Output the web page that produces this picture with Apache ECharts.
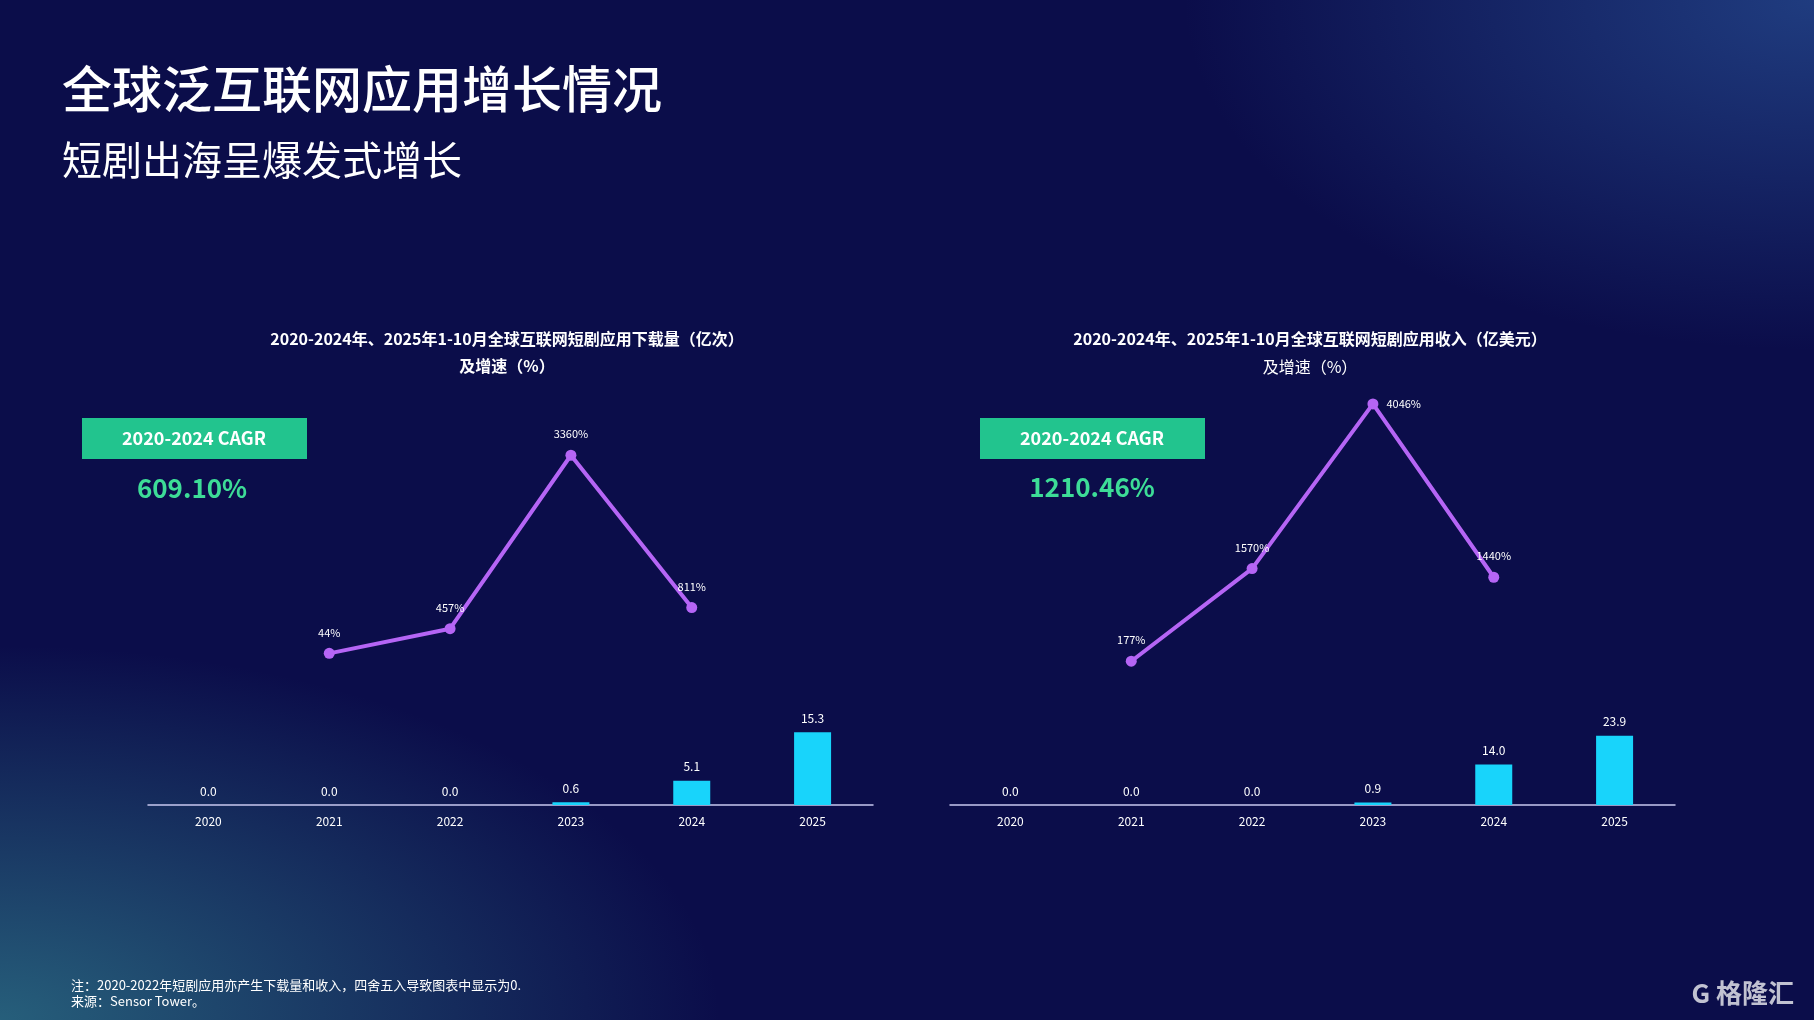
<!DOCTYPE html>
<html><head><meta charset="utf-8">
<script src="https://cdn.jsdelivr.net/npm/echarts@6/dist/echarts.min.js"></script>
<style>
html,body{margin:0;padding:0;width:1814px;height:1020px;overflow:hidden;}
body{background:
radial-gradient(ellipse 1000px 520px at 0% 100%, rgba(45,115,135,0.8), rgba(45,115,135,0) 72%),
radial-gradient(ellipse 900px 500px at 100% 0%, rgba(40,80,150,0.7), rgba(40,80,150,0) 70%),
#0b0d4a;}
#c{width:1814px;height:1020px;}
</style></head><body><div id="c"></div>
<script>
const years = ['2020','2021','2022','2023','2024','2025'];
const downloads = [0.0, 0.0, 0.0, 0.6, 5.1, 15.3];
const downloadGrowth = [null, 44, 457, 3360, 811, null];
const revenue = [0.0, 0.0, 0.0, 0.9, 14.0, 23.9];
const revenueGrowth = [null, 177, 1570, 4046, 1440, null];
const cagrLeft = '609.10%';
const cagrRight = '1210.46%';

const F = '"Noto Sans CJK SC","Noto Sans",sans-serif';
const chart = echarts.init(document.getElementById('c'));
const grids = [
  {left:148, width:725, top:710, height:95},
  {left:148, width:725, top:417, height:239},
  {left:950, width:725, top:718, height:87},
  {left:950, width:725, top:407, height:266}
];
const xAxes = grids.map((g,i)=>({gridIndex:i, type:'category', data:years,
  show: i%2===0,
  axisLine:{lineStyle:{color:'#c8c8f0', width:1.5}}, axisTick:{show:false},
  axisLabel:{color:'#fff', fontSize:12, fontFamily:F, margin:10}}));
const yMax = [20, 4000, 30, 4000];
const yAxes = grids.map((g,i)=>({gridIndex:i, type:'value', min:0, max:yMax[i], show:false, splitLine:{show:false}}));
const barS = (d, i)=>({type:'bar', xAxisIndex:i, yAxisIndex:i, data:d, barWidth:37,
  itemStyle:{color:'#18d4fb'},
  label:{show:true, position:'top', color:'#fff', fontSize:12, fontFamily:F, distance:8, formatter:p=>p.value.toFixed(1)}});
const lineS = (d, i)=>({type:'line', xAxisIndex:i, yAxisIndex:i, clip:false,
  data:d.map(v=>v===4046?{value:v,label:{position:'right',distance:8}}:v), symbol:'circle', symbolSize:11,
  lineStyle:{color:'#b565f5', width:4}, itemStyle:{color:'#b565f5'},
  label:{show:true, position:'top', color:'#fff', fontSize:11, fontFamily:F, distance:10, formatter:p=>p.value+'%'}});
const graphic = [
  {type:'text', left:62, top:64, style:{text:'全球泛互联网应用增长情况', fill:'#fff', font:'500 50px '+F}},
  {type:'text', left:62, top:140, style:{text:'短剧出海呈爆发式增长', fill:'#fff', font:'40px '+F}},
  {type:'text', x:507, y:339, style:{text:'2020-2024年、2025年1-10月全球互联网短剧应用下载量（亿次）', fill:'#fff', font:'bold 16px '+F, textAlign:'center', textVerticalAlign:'middle'}},
  {type:'text', x:507, y:366, style:{text:'及增速（%）', fill:'#fff', font:'bold 16px '+F, textAlign:'center', textVerticalAlign:'middle'}},
  {type:'text', x:1310, y:339, style:{text:'2020-2024年、2025年1-10月全球互联网短剧应用收入（亿美元）', fill:'#fff', font:'bold 16px '+F, textAlign:'center', textVerticalAlign:'middle'}},
  {type:'text', x:1310, y:367, style:{text:'及增速（%）', fill:'#fff', font:'16px '+F, textAlign:'center', textVerticalAlign:'middle'}},
  {type:'rect', shape:{x:82, y:418, width:225, height:41}, style:{fill:'#22c48e'}},
  {type:'text', x:194, y:438, style:{text:'2020-2024 CAGR', fill:'#fff', font:'bold 18px '+F, textAlign:'center', textVerticalAlign:'middle'}},
  {type:'text', x:192, y:488, style:{text:cagrLeft, fill:'#3ddc97', font:'bold 26px '+F, textAlign:'center', textVerticalAlign:'middle'}},
  {type:'rect', shape:{x:980, y:418, width:225, height:41}, style:{fill:'#22c48e'}},
  {type:'text', x:1092, y:438, style:{text:'2020-2024 CAGR', fill:'#fff', font:'bold 18px '+F, textAlign:'center', textVerticalAlign:'middle'}},
  {type:'text', x:1092, y:487, style:{text:cagrRight, fill:'#3ddc97', font:'bold 26px '+F, textAlign:'center', textVerticalAlign:'middle'}},
  {type:'text', left:71, top:979, style:{text:'注：2020-2022年短剧应用亦产生下载量和收入，四舍五入导致图表中显示为0.', fill:'#fff', font:'13px '+F}},
  {type:'text', left:71, top:995, style:{text:'来源：Sensor Tower。', fill:'#fff', font:'13px '+F}},
  {type:'text', right:20, top:980, style:{text:'G 格隆汇', fill:'rgba(255,255,255,0.75)', font:'bold 26px '+F}}
];
chart.setOption({
  backgroundColor:'transparent', animation:false,
  grid:grids, xAxis:xAxes, yAxis:yAxes, graphic:graphic,
  series:[barS(downloads,0), lineS(downloadGrowth,1), barS(revenue,2), lineS(revenueGrowth,3)]
});
</script></body></html>
